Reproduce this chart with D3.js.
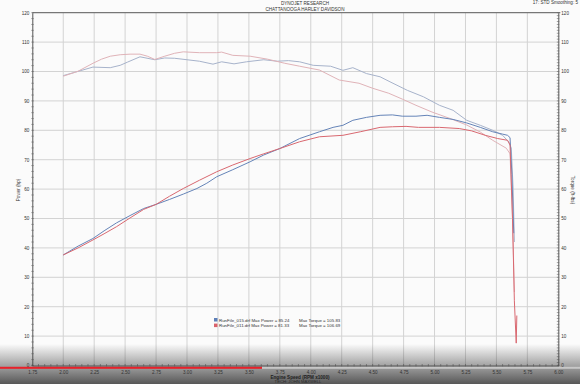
<!DOCTYPE html>
<html><head><meta charset="utf-8">
<script src="https://cdn.jsdelivr.net/npm/d3@7"></script>
<style>
html,body{margin:0;padding:0;background:#fff;}
svg{display:block;font-family:"Liberation Sans",Arial,sans-serif;}
</style></head>
<body>
<svg id="chart" width="580" height="384"></svg>
<script>
// ---- data ----
const xTicks = [1.75,2.00,2.25,2.50,2.75,3.00,3.25,3.50,3.75,4.00,4.25,4.50,4.75,5.00,5.25,5.50,5.75,6.00];
const yTicks = [0,10,20,30,40,50,60,70,80,90,100,110,120];

const bluePowerRpm = [2.00,2.12,2.24,2.33,2.43,2.54,2.65,2.75,2.86,2.97,3.08,3.16,3.24,3.37,3.51,3.62,3.75,3.91,4.07,4.18,4.26,4.34,4.45,4.56,4.66,4.74,4.85,4.94,5.04,5.15,5.26,5.37,5.47,5.55,5.59,5.61,5.625,5.64];
const bluePower    = [37.6,40.6,43.2,45.8,48.5,51.0,53.4,54.8,56.5,58.3,60.2,62.0,64.2,66.6,69.3,71.6,73.8,77.2,79.5,81.0,81.7,83.4,84.4,85.1,85.24,84.8,84.8,85.1,84.4,83.7,82.5,81.0,79.5,78.7,78.3,77.5,65.0,45.0];

const redPowerRpm = [2.00,2.12,2.24,2.33,2.43,2.54,2.65,2.75,2.86,2.97,3.10,3.24,3.37,3.51,3.62,3.75,3.91,4.07,4.26,4.40,4.56,4.66,4.77,4.87,5.04,5.20,5.30,5.41,5.51,5.59,5.61,5.63,5.645,5.66,5.665];
const redPower    = [37.6,40.0,42.7,44.8,47.2,50.2,53.1,54.8,57.6,60.2,63.0,65.9,68.2,70.4,72.0,73.8,76.1,77.8,78.3,79.5,81.0,81.2,81.33,81.0,81.0,80.6,79.8,78.3,77.2,76.6,75.0,50.0,22.0,7.6,17.0];

const blueTorqueRpm = [2.00,2.10,2.24,2.38,2.46,2.52,2.62,2.74,2.82,2.90,3.00,3.10,3.21,3.28,3.38,3.48,3.62,3.73,3.82,3.91,4.02,4.16,4.26,4.34,4.45,4.56,4.64,4.78,4.91,5.04,5.15,5.26,5.37,5.47,5.55,5.60,5.62,5.635,5.645];
const blueTorque    = [98.6,99.8,101.5,101.3,102.1,103.2,105.0,104.0,104.6,104.5,104.0,103.5,102.5,103.3,102.6,103.3,104.0,103.5,103.7,103.3,102.1,101.8,100.4,101.3,99.3,98.2,96.5,93.6,91.4,88.5,86.8,83.4,81.7,80.0,78.3,76.0,74.0,60.0,42.0];

const redTorqueRpm = [2.00,2.12,2.24,2.31,2.38,2.46,2.54,2.62,2.68,2.74,2.82,2.90,2.97,3.10,3.24,3.28,3.37,3.51,3.65,3.79,3.91,4.07,4.23,4.39,4.50,4.63,4.74,4.85,4.98,5.12,5.26,5.37,5.47,5.58,5.61,5.63,5.645];
const redTorque    = [98.4,100.1,102.8,104.2,105.2,105.7,105.9,105.9,105.2,104.1,105.2,106.2,106.69,106.4,106.4,106.6,105.5,105.2,104.2,102.8,101.8,100.5,97.1,96.0,94.3,92.6,90.6,88.5,86.2,84.1,81.8,79.4,76.6,73.9,72.0,50.0,25.0];

const legendNames = ["RunFile_015.drf","RunFile_011.drf"];
const legendMaxPower = ["85.24","81.33"];
const legendMaxTorque = ["105.83","106.69"];

// ---- drawing ----
const svg = d3.select("#chart");
const L = 32.3, R = 558.3, T = 12.7, B = 365.5;
const x = d3.scaleLinear().domain([1.75,6.00]).range([L,R]);
const y = d3.scaleLinear().domain([0,120]).range([B,T]);

svg.append("rect").attr("width",580).attr("height",384).attr("fill","#fbfbfb");

// grid
const grid = svg.append("g").attr("stroke","#d3d3d3").attr("stroke-width",1);
grid.selectAll(".vx").data(xTicks.slice(1,-1)).join("line")
  .attr("x1",d=>x(d)).attr("x2",d=>x(d)).attr("y1",T).attr("y2",B);
grid.selectAll(".hy").data(yTicks.slice(1,-1)).join("line")
  .attr("x1",L).attr("x2",R).attr("y1",d=>y(d)).attr("y2",d=>y(d));

// frame
svg.append("line").attr("x1",L).attr("x2",R+2).attr("y1",T).attr("y2",T).attr("stroke","#777").attr("stroke-width",1.3);
const yLeft = d3.axisLeft(y).tickValues(yTicks).tickSize(0).tickPadding(3);
const yRight = d3.axisRight(y).tickValues(yTicks).tickSize(0).tickPadding(3);
const xBot = d3.axisBottom(x).tickValues(xTicks).tickSize(0).tickPadding(4.8).tickFormat(d3.format(".2f"));
function styleAxis(g){
  g.select(".domain").attr("stroke","#555").attr("stroke-width",1);
  g.selectAll("text").attr("font-size",4.6).attr("fill","#333");
}
svg.append("g").attr("transform",`translate(${L},0)`).call(yLeft).call(styleAxis);
svg.append("g").attr("transform",`translate(${R},0)`).call(yRight).call(styleAxis);

// minor ticks
const minorL = d3.range(0,121,2), minorR = d3.range(0,121,1), minorX = d3.range(1.75,6.001,0.05);
svg.append("g").attr("stroke","#666").attr("stroke-width",0.6).selectAll("line").data(minorL).join("line")
  .attr("x1",L-1).attr("x2",L+1.5).attr("y1",d=>y(d)).attr("y2",d=>y(d));
svg.append("g").attr("stroke","#666").attr("stroke-width",0.6).selectAll("line").data(minorR).join("line")
  .attr("x1",R-1.5).attr("x2",R+1).attr("y1",d=>y(d)).attr("y2",d=>y(d));
svg.append("g").attr("stroke","#666").attr("stroke-width",0.6).selectAll("line").data(minorX).join("line")
  .attr("x1",d=>x(d)).attr("x2",d=>x(d)).attr("y1",B-1.5).attr("y2",B+1);

// curves
const line = d3.line().x(d=>x(d[0])).y(d=>y(d[1]));
const zip = (a,b)=>a.map((v,i)=>[v,b[i]]);
const series = [
  {r:blueTorqueRpm, v:blueTorque, c:"#a7b3cb", w:1},
  {r:redTorqueRpm, v:redTorque, c:"#e0b3b8", w:1},
  {r:bluePowerRpm, v:bluePower, c:"#6584b8", w:1},
  {r:redPowerRpm, v:redPower, c:"#d96870", w:1}
];
svg.append("g").selectAll("path").data(series).join("path")
  .attr("d",d=>line(zip(d.r,d.v))).attr("fill","none")
  .attr("stroke",d=>d.c).attr("stroke-width",d=>d.w).attr("stroke-linejoin","round");

// titles
const txt = (t,xx,yy,opt={}) => svg.append("text").text(t).attr("x",xx).attr("y",yy)
  .attr("font-size",opt.fs||4.6).attr("fill",opt.fill||"#333").attr("text-anchor",opt.a||"middle")
  .attr("font-weight",opt.fw||"normal").attr("transform",opt.rot?`rotate(${opt.rot},${xx},${yy})`:null);
txt("DYNOJET RESEARCH",305,5);
txt("CHATTANOOGA HARLEY DAVIDSON",305,10.5);
txt("17: STD  Smoothing: 5",578,4,{a:"end"});
txt("Power (hp)",20,190,{rot:-90});
txt("Torque (ft-lbs)",571,190,{rot:90});

// legend
const lg = svg.append("g");
[["#5d7fb8",0],["#d9626b",1]].forEach(([c,i])=>{
  lg.append("rect").attr("x",214).attr("y",318+i*5.6).attr("width",3.5).attr("height",3.5).attr("fill",c);
  txt(`${legendNames[i]} Max Power = ${legendMaxPower[i]}`,219,321.6+i*5.6,{a:"start",fs:4.4});
  txt(`Max Torque = ${legendMaxTorque[i]}`,299,321.6+i*5.6,{a:"start",fs:4.4});
});

// photo / video overlay at bottom
const defs = svg.append("defs");
const gr = defs.append("linearGradient").attr("id","shade").attr("x1",0).attr("x2",0).attr("y1",0).attr("y2",1);
gr.append("stop").attr("offset","0%").attr("stop-color","#3a3a3a").attr("stop-opacity",0);
gr.append("stop").attr("offset","100%").attr("stop-color","#3a3a3a").attr("stop-opacity",0.85);
svg.append("rect").attr("x",0).attr("y",344).attr("width",580).attr("height",40).attr("fill","url(#shade)").attr("pointer-events","none");

// x axis on top of shade
svg.append("g").attr("transform",`translate(0,${B})`).call(xBot).call(styleAxis);
svg.append("rect").attr("x",262).attr("y",366.8).attr("width",318).attr("height",2).attr("fill","#fff").attr("opacity",0.45);
svg.append("rect").attr("x",0).attr("y",366.8).attr("width",262).attr("height",2).attr("fill","#e8212a");

// bottom titles (over the shade)
txt("Engine Speed (RPM x1000)",300,378.6,{fill:"#1e1e1e",fw:"bold",fs:4.6});
txt("TECH: JOHN MAXWELL",298,383.4,{fill:"#2a2a2a",fs:4.2});
</script>
</body></html>
